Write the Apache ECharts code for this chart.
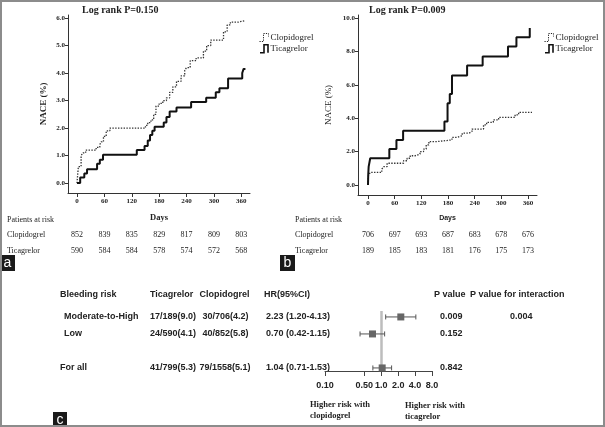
<!DOCTYPE html>
<html><head><meta charset="utf-8">
<script src="https://cdn.jsdelivr.net/npm/echarts@6/dist/echarts.min.js"></script>
<style>html,body{margin:0;padding:0;background:#fff}#c{width:605px;height:427px}</style>
</head><body><div id="c"></div>
<script>
// ---------- data ----------
const dayTicks = [0, 60, 120, 180, 240, 300, 360];
const aYTicks = [0, 1, 2, 3, 4, 5, 6];
const bYTicks = [0, 2, 4, 6, 8, 10];
const aClop = [[0,0],[3,0.6],[9,1.0],[13,1.1],[19,1.2],[42,1.3],[50,1.4],[53,1.5],[58,1.7],[64,1.9],[72,2.0],[150,2.1],[155,2.2],[162,2.3],[168,2.5],[173,2.8],[180,2.9],[188,3.0],[196,3.1],[203,3.3],[210,3.5],[218,3.7],[228,3.9],[236,4.1],[240,4.2],[248,4.45],[261,4.55],[277,4.8],[284,5.0],[293,5.2],[321,5.5],[329,5.75],[336,5.85],[353,5.9],[367,5.9]];
const aTica = [[0,0],[7,0.2],[16,0.35],[22,0.5],[44,0.7],[50,0.85],[57,1.03],[131,1.2],[148,1.35],[155,1.55],[160,1.75],[165,1.9],[170,2.05],[190,2.2],[196,2.4],[203,2.6],[218,2.75],[250,2.95],[283,3.1],[304,3.3],[312,3.45],[331,3.8],[362,4.0],[365,4.15],[369,4.15]];
const bClop = [[0,0],[1,0.55],[5,0.75],[31,0.95],[35,1.1],[43,1.3],[80,1.45],[88,1.6],[95,1.75],[106,1.85],[117,2.0],[125,2.15],[131,2.4],[137,2.6],[156,2.7],[189,2.85],[200,2.95],[212,3.1],[227,3.2],[234,3.35],[260,3.6],[267,3.75],[282,3.9],[294,4.05],[331,4.2],[339,4.35],[369,4.35]];
const bTica = [[0,0],[0.5,0.6],[1.5,1.1],[5,1.6],[48,2.15],[64,2.7],[79,3.25],[172,3.8],[179,4.9],[184,5.45],[189,6.55],[223,7.15],[258,7.7],[315,8.3],[334,8.85],[364,9.4],[365,9.4]];
const riskDays = [0, 60, 120, 180, 240, 300, 360];
const aRiskClop = [852, 839, 835, 829, 817, 809, 803];
const aRiskTica = [590, 584, 584, 578, 574, 572, 568];
const bRiskClop = [706, 697, 693, 687, 683, 678, 676];
const bRiskTica = [189, 185, 183, 181, 176, 175, 173];

const groups = ['Moderate-to-High', 'Low', 'For all'];
const groupRow = [0, 1, 3];
const ticaEv = ['17/189(9.0)', '24/590(4.1)', '41/799(5.3)'];
const clopEv = ['30/706(4.2)', '40/852(5.8)', '79/1558(5.1)'];
const hr = [2.23, 0.70, 1.04];
const lo = [1.20, 0.42, 0.71];
const hi = [4.13, 1.15, 1.53];
const pVals = ['0.009', '0.152', '0.842'];
const pInter = ['0.004', '', ''];
const hrTicks = [0.1, 0.5, 1, 2, 4, 8];
const hrTickLabels = ['0.10', '0.50', '1.0', '2.0', '4.0', '8.0'];
const refHR = 1;

// ---------- chart ----------
const SERIF = '"Liberation Serif", "Times New Roman", serif';
const SANS = '"Liberation Sans", Arial, sans-serif';
const chart = echarts.init(document.getElementById('c'), null, {renderer: 'canvas'});
const L10 = v => Math.log10(v);
const axisCol = '#333';

function kmX(idx, min, max, nameFont) {
  return {
    gridIndex: idx, type: 'value', min: min, max: max,
    axisLine: {show: true, onZero: false, lineStyle: {color: axisCol, width: 1}},
    axisTick: {show: true, customValues: dayTicks, length: 4, lineStyle: {color: axisCol}},
    axisLabel: {customValues: dayTicks, fontSize: 7, fontWeight: 'bold', fontFamily: SERIF, color: '#222', margin: 5},
    splitLine: {show: false},
    name: 'Days', nameLocation: 'middle', nameGap: 20,
    nameTextStyle: nameFont
  };
}
function kmY(idx, min, max, ticks, nameGap, bold) {
  return {
    gridIndex: idx, type: 'value', min: min, max: max,
    axisLine: {show: true, onZero: false, lineStyle: {color: axisCol, width: 1}},
    axisTick: {show: true, customValues: ticks, length: 3, lineStyle: {color: axisCol}},
    axisLabel: {customValues: ticks, fontSize: 7, fontWeight: 'bold', fontFamily: SERIF, color: '#222', margin: 3,
      formatter: v => v.toFixed(1)},
    splitLine: {show: false},
    name: 'NACE (%)', nameLocation: 'middle', nameGap: nameGap,
    nameTextStyle: {fontSize: 9, fontFamily: SERIF, fontWeight: bold ? 'bold' : 'normal', color: '#222'}
  };
}

const clopLegendIcon = 'path://M0,10 L4,10 L4,2 L9,2 L9,5';
const ticaLegendIcon = 'path://M0,10 L4,10 L4,2 L8,2 L8,10';
function legendCfg(left) {
  return {
    left: left, top: 28, orient: 'vertical', itemGap: 2, itemWidth: 9, itemHeight: 8,
    selectedMode: false,
    textStyle: {fontFamily: SERIF, fontSize: 9, color: '#222', lineHeight: 9, padding: [0, 0, 0, -3]},
    data: [
      {name: 'Clopidogrel', icon: clopLegendIcon, itemStyle: {color: 'transparent', borderColor: '#222', borderWidth: 1, borderType: [1.2, 1.2]}},
      {name: 'Ticagrelor', icon: ticaLegendIcon, itemStyle: {color: 'transparent', borderColor: '#111', borderWidth: 1.6}}
    ]
  };
}

const forestData = hr.map((h, i) => [L10(h), groupRow[i], L10(lo[i]), L10(hi[i])]);

chart.setOption({
  animation: false,
  backgroundColor: '#fff',
  grid: [
    {left: 68, top: 15, width: 182, height: 178},
    {left: 358, top: 15, width: 179, height: 180},
    {left: 325, top: 311, width: 107, height: 60}
  ],
  legend: [legendCfg(254), legendCfg(539)],
  xAxis: [
    kmX(0, -19.7, 379, {fontSize: 8.5, fontWeight: 'bold', fontFamily: SERIF, color: '#222'}),
    kmX(1, -22.5, 380.3, {fontSize: 7, fontWeight: 'bold', fontFamily: SANS, color: '#222'}),
    {
      gridIndex: 2, type: 'value', min: L10(hrTicks[0]), max: L10(hrTicks[hrTicks.length - 1]),
      axisLine: {show: true, onZero: false, lineStyle: {color: '#444', width: 1}},
      axisTick: {show: true, customValues: hrTicks.map(L10), length: 5, lineStyle: {color: '#444'}},
      axisLabel: {customValues: hrTicks.map(L10), fontSize: 9, fontWeight: 'bold', fontFamily: SANS, color: '#222', margin: 10,
        formatter: v => { const i = hrTicks.findIndex(t => Math.abs(L10(t) - v) < 1e-6); return i >= 0 ? hrTickLabels[i] : ''; }},
      splitLine: {show: false}
    }
  ],
  yAxis: [
    kmY(0, -0.36, 6.11, aYTicks, 20, true),
    kmY(1, -0.6, 10.18, bYTicks, 25, false),
    {gridIndex: 2, type: 'value', inverse: true, min: -0.35, max: 3.18, show: false}
  ],
  series: [
    {name: 'Clopidogrel', type: 'line', xAxisIndex: 0, yAxisIndex: 0, step: 'end', data: aClop, showSymbol: false,
      lineStyle: {color: '#333', width: 1.3, type: [1.4, 1.4]}, itemStyle: {color: '#333'}, z: 2},
    {name: 'Ticagrelor', type: 'line', xAxisIndex: 0, yAxisIndex: 0, step: 'end', data: aTica, showSymbol: false,
      lineStyle: {color: '#111', width: 2}, itemStyle: {color: '#111'}, z: 3},
    {name: 'Clopidogrel', type: 'line', xAxisIndex: 1, yAxisIndex: 1, step: 'end', data: bClop, showSymbol: false,
      lineStyle: {color: '#333', width: 1.3, type: [1.4, 1.4]}, itemStyle: {color: '#333'}, z: 2},
    {name: 'Ticagrelor', type: 'line', xAxisIndex: 1, yAxisIndex: 1, step: 'end', data: bTica, showSymbol: false,
      lineStyle: {color: '#111', width: 2}, itemStyle: {color: '#111'}, z: 3},
    {name: 'ref', type: 'scatter', xAxisIndex: 2, yAxisIndex: 2, data: [], z: 1,
      markLine: {silent: true, symbol: 'none', label: {show: false}, animation: false,
        lineStyle: {color: '#bdbdbd', width: 2.5, type: 'solid'}, data: [{xAxis: L10(refHR)}]}},
    {name: 'HR', type: 'custom', xAxisIndex: 2, yAxisIndex: 2, data: forestData, z: 5,
      renderItem: function (params, api) {
        const c = api.coord([api.value(0), api.value(1)]);
        const l = api.coord([api.value(2), api.value(1)]);
        const h = api.coord([api.value(3), api.value(1)]);
        const cap = 2.5, s = 3.5, st = {stroke: '#555', lineWidth: 1};
        return {type: 'group', children: [
          {type: 'line', shape: {x1: l[0], y1: c[1], x2: h[0], y2: c[1]}, style: st},
          {type: 'line', shape: {x1: l[0], y1: c[1] - cap, x2: l[0], y2: c[1] + cap}, style: st},
          {type: 'line', shape: {x1: h[0], y1: c[1] - cap, x2: h[0], y2: c[1] + cap}, style: st},
          {type: 'rect', shape: {x: c[0] - s, y: c[1] - s, width: 2 * s, height: 2 * s}, style: {fill: '#666'}}
        ]};
      }}
  ]
});

// ---------- text elements ----------
const g = [];
function txt(x, y, s, font, opt) {
  g.push(Object.assign({type: 'text', x: x, y: y, silent: true,
    style: Object.assign({text: s, font: font, fill: '#222', textVerticalAlign: 'middle', textAlign: 'left'}, opt || {})}));
}
const fTitle = 'bold 10px ' + SERIF;
const fRisk = '8px ' + SERIF;
const fForest = 'bold 9px ' + SANS;
const fNote = 'bold 8.5px ' + SERIF;

txt(82, 10, 'Log rank P=0.150', fTitle);
txt(369, 10, 'Log rank P=0.009', fTitle);

// Patients at risk tables
[[0, 7, aRiskClop, aRiskTica], [1, 295, bRiskClop, bRiskTica]].forEach(([ax, x0, rc, rt]) => {
  txt(x0, 220, 'Patients at risk', fRisk);
  txt(x0, 235, 'Clopidogrel', fRisk);
  txt(x0, 251, 'Ticagrelor', fRisk);
  riskDays.forEach((d, i) => {
    const px = chart.convertToPixel({xAxisIndex: ax}, d);
    txt(px, 235, String(rc[i]), fRisk, {textAlign: 'center'});
    txt(px, 251, String(rt[i]), fRisk, {textAlign: 'center'});
  });
});

// Forest table
const hdrY = 295;
txt(60, hdrY, 'Bleeding risk', fForest);
txt(150, hdrY, 'Ticagrelor', fForest);
txt(199.5, hdrY, 'Clopidogrel', fForest);
txt(264, hdrY, 'HR(95%CI)', fForest);
txt(434, hdrY, 'P value', fForest);
txt(470, hdrY, 'P value for interaction', fForest);
groups.forEach((name, i) => {
  const py = chart.convertToPixel({yAxisIndex: 2}, groupRow[i]);
  const indent = name === 'For all' ? 60 : 64;
  txt(indent, py, name, fForest);
  txt(150, py, ticaEv[i], fForest);
  txt(name === 'For all' ? 199.5 : 202.5, py, clopEv[i], fForest);
  txt(266, py, hr[i].toFixed(2) + ' (' + lo[i].toFixed(2) + '-' + hi[i].toFixed(2) + ')', fForest);
  txt(440, py, pVals[i], fForest);
  if (pInter[i]) txt(510, py, pInter[i], fForest);
});
txt(310, 405, 'Higher risk with', fNote);
txt(310, 416, 'clopidogrel', fNote);
txt(405, 406, 'Higher risk with', fNote);
txt(405, 417, 'ticagrelor', fNote);

// panel letters
[['a', 0, 255, 15, 16], ['b', 280, 255, 15, 16], ['c', 53, 412, 14, 15]].forEach(([s, x, y, w, h]) => {
  g.push({type: 'rect', silent: true, shape: {x: x, y: y, width: w, height: h}, style: {fill: '#1a1a1a'}});
  txt(x + w / 2, y + h / 2 + 0.5, s, '14px ' + SANS, {fill: '#fff', textAlign: 'center'});
});
// frame
g.push({type: 'rect', silent: true, shape: {x: 1, y: 1, width: 603, height: 425}, style: {fill: 'none', stroke: '#8c8c8c', lineWidth: 2}, z: 100});

chart.setOption({graphic: {elements: g}});
</script>
</body></html>
